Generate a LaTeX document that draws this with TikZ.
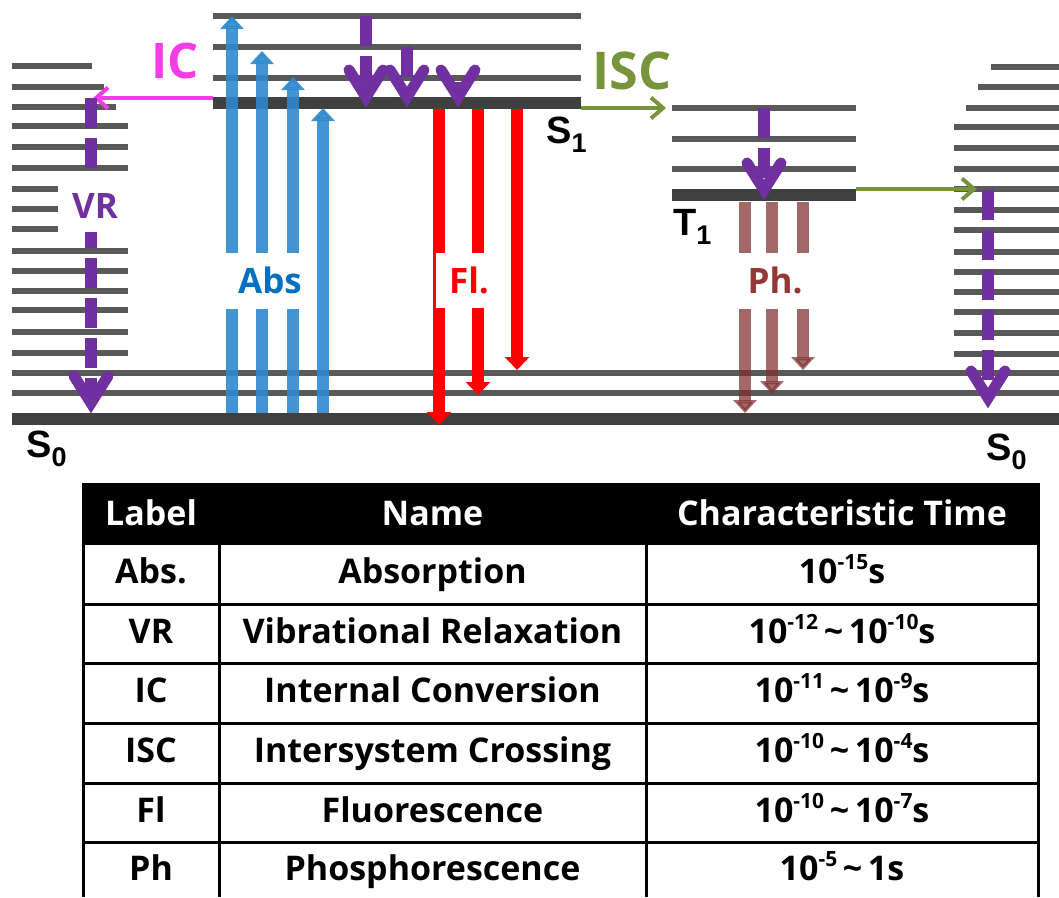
\documentclass[tikz,border=0pt]{standalone}
\usepackage{fontspec}
\setmainfont{Open Sans}
\newfontfamily\arialfont{Liberation Sans}
\usetikzlibrary{arrows.meta,calc}
\definecolor{lvl}{HTML}{595959}
\definecolor{lvlthick}{HTML}{404040}
\definecolor{absblue}{HTML}{2F88CE}
\definecolor{abstext}{HTML}{0070C0}
\definecolor{flred}{HTML}{FF0000}
\definecolor{vrpurple}{HTML}{7030A0}
\definecolor{icmag}{HTML}{F53CE6}
\definecolor{iscgreen}{HTML}{77933C}
\definecolor{pharrow}{HTML}{7F2F2F}
\definecolor{phtext}{HTML}{953735}
\newcommand{\lvlname}[2]{#1\raisebox{-9pt}{\fontsize{27}{30}\selectfont #2}}
\newcommand{\tsup}[1]{\raisebox{14pt}{\fontsize{21}{24}\selectfont #1}}
\newcommand{\tld}{\,\textasciitilde\,}
\newcommand{\vhead}[1]{\draw[vrhead] ($(#1)+(-17,-37)$) -- ($(#1)+(0,-10)$) -- ($(#1)+(17,-37)$);}
\begin{document}
\begin{tikzpicture}[x=1pt,y=-1pt,
  lvlline/.style={draw=lvl, line width=5.5pt},
  lvlbase/.style={draw=lvlthick, line width=12pt},
  absline/.style={draw=absblue, line width=12pt, opacity=0.9},
  absarrow/.style={absline, -{Triangle[width=23pt,length=13pt]}},
  flarrow/.style={draw=flred, line width=12pt, -{Triangle[width=24pt,length=13pt]}},
  phline/.style={draw=pharrow, line width=12pt, opacity=0.72},
  pharr/.style={phline, -{Triangle[width=23pt,length=13pt]}},
  vrshaft/.style={draw=vrpurple, line width=12pt, dash pattern=on 30pt off 10pt},
  vrhead/.style={draw=vrpurple, line width=11pt, line cap=round, line join=miter},
  thinarrow/.style={line width=4pt, -{Straight Barb[length=12pt,width=21pt]}},
  lbl/.style={font=\fontsize{35}{40}\selectfont\bfseries, inner sep=0pt, anchor=base},
  tbl/.style={font=\fontsize{34}{40}\selectfont\bfseries, inner sep=0pt, anchor=base},
  lvltext/.style={font=\arialfont\bfseries\fontsize{38}{40}\selectfont, inner sep=0pt, anchor=base west},
]
\useasboundingbox (0,0) rectangle (1059,897);

% ---------- energy levels ----------
% left S0 stack
\draw[lvlline] (12,66) -- (92,66);
\draw[lvlline] (12,87) -- (104,87);
\draw[lvlline] (12,107) -- (116,107);
\foreach \y in {126,147,168,251,271,291,310,332,353} \draw[lvlline] (12,\y) -- (128,\y);
\foreach \y in {189,209,229} \draw[lvlline] (12,\y) -- (58,\y);
% common lines
\foreach \y in {373,393} \draw[lvlline] (12,\y) -- (1059,\y);
\draw[lvlbase] (12,419) -- (1059,419);
% S1
\foreach \y in {16,47,78} \draw[lvlline] (213,\y) -- (581,\y);
\draw[lvlbase] (213,103) -- (581,103);
% T1
\foreach \y in {108,139,169} \draw[lvlline] (672,\y) -- (856,\y);
\draw[lvlbase] (672,195) -- (856,195);
% right S0 stack
\draw[lvlline] (991,67) -- (1059,67);
\draw[lvlline] (978,87) -- (1059,87);
\draw[lvlline] (966,108) -- (1059,108);
\foreach \y in {127,148,169,189,210,230,252,272,292,312,333,354} \draw[lvlline] (954,\y) -- (1059,\y);

% ---------- level labels ----------
\node[lvltext] (s0l) at (26,457) {\lvlname{S}{0}};
\node[lvltext] (s1) at (546,143) {\lvlname{S}{1}};
\node[lvltext] (t1) at (673,235) {\lvlname{T}{1}};
\node[lvltext] (s0r) at (986,460) {\lvlname{S}{0}};

% ---------- absorption ----------
\foreach \x/\t in {232/16, 262/51, 293/77} {
  \draw[absline] (\x,413) -- (\x,309);
  \draw[absarrow] (\x,253) -- (\x,\t);
}
\draw[absarrow] (323,413) -- (323,108);
\node[lbl, text=abstext] (abs) at (270,293) {Abs};

% ---------- fluorescence ----------
\draw[flarrow] (439,109) -- (439,425);
\draw[flarrow] (478,109) -- (478,395);
\draw[flarrow] (517,109) -- (517,370);
\node[fill=white, inner sep=0pt, minimum width=49pt, minimum height=55pt] (flbox) at (460.5,280.5) {};
\node[lbl, text=flred] (fl) at (469,293) {Fl.};

% ---------- phosphorescence ----------
\foreach \x/\t in {745/413, 772/394, 803/370} {
  \draw[phline] (\x,202) -- (\x,253);
  \draw[pharr] (\x,309) -- (\x,\t);
}
\node[lbl, text=phtext] (ph) at (775,293) {Ph.};

% ---------- internal conversion ----------
\coordinate (icA) at (213,98);
\coordinate (icB) at (93,98);
\draw[thinarrow, draw=icmag] (icA) -- (icB);
\node[lbl, text=icmag, font=\fontsize{49}{52}\selectfont\bfseries] (ic) at (175,78) {IC};

% ---------- intersystem crossing ----------
\coordinate (iscA) at (581,108);
\coordinate (iscB) at (666,108);
\draw[thinarrow, draw=iscgreen] (iscA) -- (iscB);
\node[lbl, text=iscgreen, font=\fontsize{52}{56}\selectfont\bfseries] (isc) at (632,89) {ISC};
\coordinate (tA) at (856,189);
\coordinate (tB) at (977,189);
\draw[thinarrow, draw=iscgreen] (tA) -- (tB);

% ---------- vibrational relaxation ----------
% left
\coordinate (vrL0) at (91,98);
\coordinate (vrL1) at (91,404);
\coordinate (vrLt) at (91,413);
\draw[vrshaft] (vrL0) -- (vrL1);
\vhead{vrLt}
\node[fill=white, inner sep=0pt, minimum width=50pt, minimum height=60pt] (vrbox) at (95,201.5) {};
\node[lbl, text=vrpurple] (vr) at (95,218) {VR};
% S1
\draw[vrshaft] (366,16) -- (366,98);
\vhead{366,107}
\draw[vrshaft] (407,47) -- (407,98);
\vhead{407,107}
\draw[draw=vrpurple, line width=12pt] (458,82) -- (458,98);
\vhead{458,107}
% T1
\draw[vrshaft] (764,108) -- (764,190);
\vhead{764,200}
% right
\draw[vrshaft] (988,190) -- (988,398);
\vhead{988,408}

% ---------- table ----------
\fill[black] (81.5,483) rectangle (1039.5,545);
\foreach \y in {604,663,723,783,842} \draw[line width=3pt] (83,\y) -- (1038,\y);
\foreach \x in {83,219,646,1038} \draw[line width=3pt] (\x,545) -- (\x,897);

\node[tbl, text=white] (h1) at (151,525) {Label};
\node[tbl, text=white] (h2) at (432.5,525) {Name};
\node[tbl, text=white] (h3) at (842,525) {Characteristic Time};

\node[tbl] (a1) at (151,583) {Abs.};
\node[tbl] (a2) at (432.5,583) {Absorption};
\node[tbl] (a3) at (842,583) {10\tsup{-15}s};

\node[tbl] (b1) at (151,643) {VR};
\node[tbl] (b2) at (432.5,643) {Vibrational Relaxation};
\node[tbl] (b3) at (842,643) {10\tsup{-12}\tld10\tsup{-10}s};

\node[tbl] (c1) at (151,702) {IC};
\node[tbl] (c2) at (432.5,702) {Internal Conversion};
\node[tbl] (c3) at (842,702) {10\tsup{-11}\tld10\tsup{-9}s};

\node[tbl] (d1) at (151,762) {ISC};
\node[tbl] (d2) at (432.5,762) {Intersystem Crossing};
\node[tbl] (d3) at (842,762) {10\tsup{-10}\tld10\tsup{-4}s};

\node[tbl] (e1) at (151,822) {Fl};
\node[tbl] (e2) at (432.5,822) {Fluorescence};
\node[tbl] (e3) at (842,822) {10\tsup{-10}\tld10\tsup{-7}s};

\node[tbl] (f1) at (151,880) {Ph};
\node[tbl] (f2) at (432.5,880) {Phosphorescence};
\node[tbl] (f3) at (842,880) {10\tsup{-5}\tld1s};
\end{tikzpicture}
\end{document}
